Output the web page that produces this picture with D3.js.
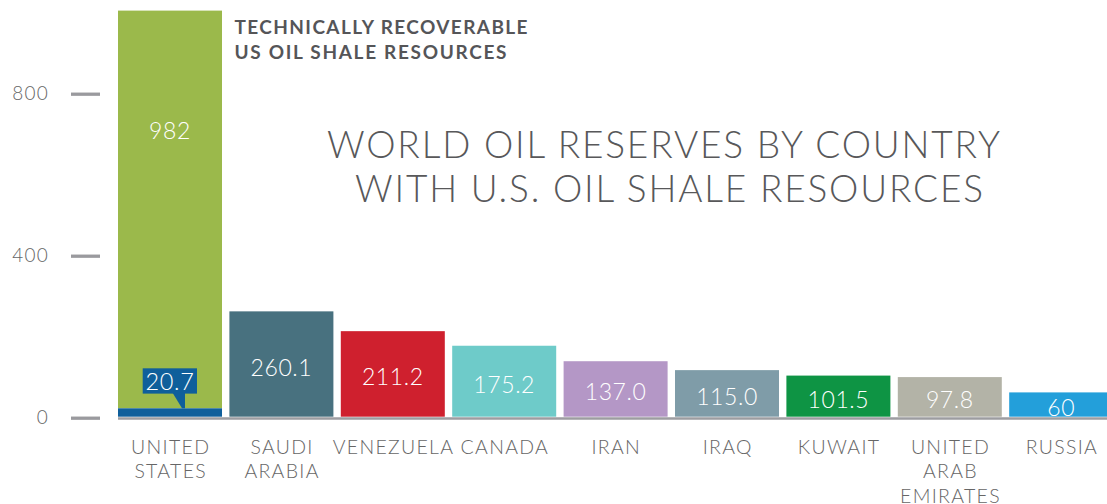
<!DOCTYPE html>
<html>
<head>
<meta charset="utf-8">
<script src="https://cdn.jsdelivr.net/npm/d3@7/dist/d3.min.js"></script>
<style>
  html, body { margin: 0; padding: 0; background: #ffffff; }
  svg { display: block; }
  text { font-family: Lato, "Open Sans", sans-serif; }
</style>
</head>
<body>
<svg id="chart" width="1107" height="504"></svg>
<script>
// ---- data ----
const countries = ["United States", "Saudi Arabia", "Venezuela", "Canada", "Iran", "Iraq", "Kuwait", "United Arab Emirates", "Russia"];
const categoryLines = [["UNITED", "STATES"], ["SAUDI", "ARABIA"], ["VENEZUELA"], ["CANADA"], ["IRAN"], ["IRAQ"], ["KUWAIT"], ["UNITED", "ARAB", "EMIRATES"], ["RUSSIA"]];
const reserves = [20.7, 260.1, 211.2, 175.2, 137.0, 115.0, 101.5, 97.8, 60];
const reserveLabels = ["20.7", "260.1", "211.2", "175.2", "137.0", "115.0", "101.5", "97.8", "60"];
const shaleUS = 982;
const shaleLabel = "982";
const barColors = ["#0f5f9b", "#48717f", "#cf202e", "#6ecbc9", "#b497c6", "#7f9ca8", "#0e9444", "#b3b3a7", "#239fda"];
const shaleColor = "#9bb94b";
const yTicks = [0, 400, 800];
const titleLines = ["WORLD OIL RESERVES BY COUNTRY", "WITH U.S. OIL SHALE RESOURCES"];
const noteLines = ["TECHNICALLY RECOVERABLE", "US OIL SHALE RESOURCES"];

// ---- scales ----
const svg = d3.select("#chart");
const x = d3.scaleBand().domain(countries).range([118, 1113.2]).paddingInner(0.0664).paddingOuter(0);
const y = d3.scaleLinear().domain([0, 800]).range([416.7, 92.7]);

// ---- y axis ticks ----
const yAxis = d3.axisLeft(y).tickValues(yTicks).tickSize(29).tickPadding(22).tickFormat(d3.format("d"));
const gy = svg.append("g").attr("transform", "translate(100,1)").call(yAxis);
gy.select(".domain").remove();
gy.selectAll(".tick line").attr("stroke", "#9a9a9e").attr("stroke-width", 3.3);
gy.selectAll(".tick text")
  .attr("fill", "#666666").attr("font-size", 19).attr("font-weight", 300)
  .attr("letter-spacing", 1.2)
  .style("font-family", "Lato, 'Open Sans', sans-serif");

// ---- bars ----
const data = countries.map((c, i) => ({ c, v: reserves[i], label: reserveLabels[i], color: barColors[i], lines: categoryLines[i] }));

// US shale stacked segment
const us = data[0];
svg.append("rect")
  .attr("x", x(us.c)).attr("width", x.bandwidth())
  .attr("y", y(us.v + shaleUS)).attr("height", y(us.v) - y(us.v + shaleUS))
  .attr("fill", shaleColor);

svg.selectAll("rect.bar").data(data).enter().append("rect")
  .attr("class", "bar")
  .attr("x", d => x(d.c)).attr("width", x.bandwidth())
  .attr("y", d => y(d.v)).attr("height", d => y(0) - y(d.v))
  .attr("fill", d => d.color);

// baseline
svg.append("line")
  .attr("x1", x(countries[0])).attr("x2", 1107)
  .attr("y1", y(0) + 1.8).attr("y2", y(0) + 1.8)
  .attr("stroke", "#9d9da1").attr("stroke-width", 2.5);

// value labels (other countries)
svg.selectAll("text.val").data(data.slice(1)).enter().append("text")
  .attr("class", "val")
  .attr("x", d => x(d.c) + x.bandwidth() / 2)
  .attr("y", d => (y(d.v) + y(0)) / 2 + 3 + 8.5)
  .attr("text-anchor", "middle")
  .attr("fill", "#ffffff").attr("font-size", 23).attr("font-weight", 300)
  .attr("letter-spacing", 0.6)
  .text(d => d.label);

// US shale label
svg.append("text")
  .attr("x", x(us.c) + x.bandwidth() / 2)
  .attr("y", y(us.v + shaleUS) + 128)
  .attr("text-anchor", "middle")
  .attr("fill", "#ffffff").attr("font-size", 23).attr("font-weight", 300)
  .attr("letter-spacing", 0.6)
  .text(shaleLabel);

// US conventional callout
const cx = x(us.c) + x.bandwidth() / 2;
const boxBottom = y(us.v) - 14.7;
svg.append("rect")
  .attr("x", cx - 27.3).attr("y", boxBottom - 25.3)
  .attr("width", 54.3).attr("height", 25.3)
  .attr("fill", barColors[0]);
svg.append("path")
  .attr("d", `M${cx + 2.7},${boxBottom - 0.5} L${cx + 15},${boxBottom - 0.5} L${cx + 15},${y(us.v)} L${cx + 12},${y(us.v)} Z`)
  .attr("fill", barColors[0]);
svg.append("text")
  .attr("x", cx).attr("y", boxBottom - 4)
  .attr("text-anchor", "middle")
  .attr("fill", "#ffffff").attr("font-size", 23.5).attr("font-weight", 300)
  .attr("letter-spacing", 0.6)
  .text(us.label);

// category labels
const cat = svg.selectAll("text.cat").data(data).enter().append("text")
  .attr("class", "cat")
  .attr("text-anchor", "middle")
  .attr("fill", "#666666").attr("font-size", 19.5).attr("font-weight", 300)
  .attr("letter-spacing", 1.3);
cat.each(function (d) {
  const t = d3.select(this);
  d.lines.forEach((ln, k) => {
    t.append("tspan")
      .attr("x", x(d.c) + x.bandwidth() / 2 + 0.7)
      .attr("y", 454 + k * 24.3)
      .text(ln);
  });
});

// note next to US bar
const noteWidths = [293, 272];
noteLines.forEach((ln, k) => {
  svg.append("text")
    .attr("x", 234.5).attr("y", 34 + k * 25.3)
    .attr("fill", "#555558").attr("font-size", 19).attr("font-weight", 700)
    .attr("textLength", noteWidths[k]).attr("lengthAdjust", "spacing")
    .text(ln);
});

// title
const titleX = [327, 355];
const titleW = [673, 628];
titleLines.forEach((ln, k) => {
  svg.append("text")
    .attr("x", titleX[k]).attr("y", 158.3 + k * 44)
    .attr("fill", "#58585a").attr("font-size", 37).attr("font-weight", 300)
    .attr("textLength", titleW[k]).attr("lengthAdjust", "spacing")
    .text(ln);
});
</script>
</body>
</html>
